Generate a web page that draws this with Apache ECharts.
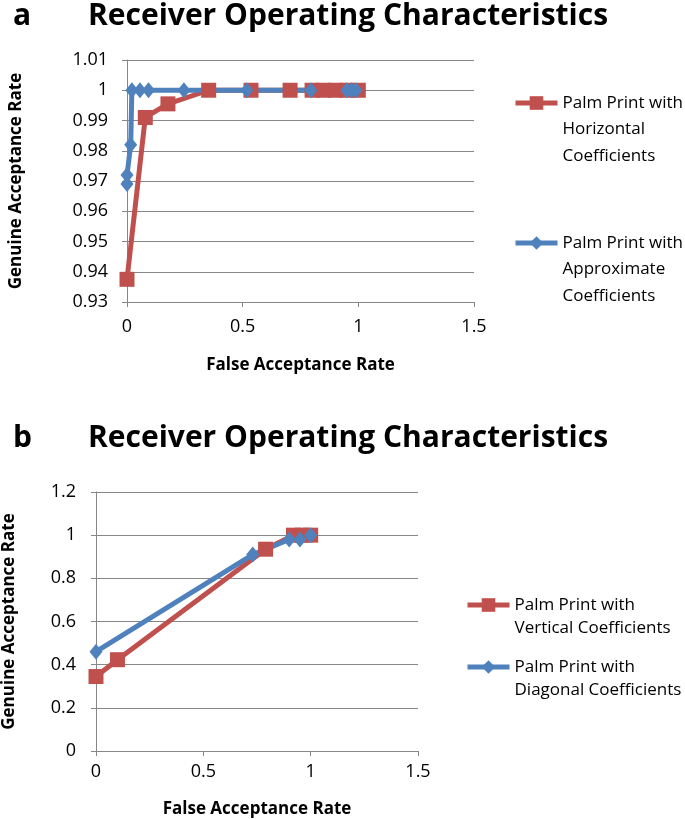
<!DOCTYPE html>
<html><head><meta charset="utf-8">
<script src="https://cdn.jsdelivr.net/npm/echarts@6/dist/echarts.min.js"></script>
<style>html,body{margin:0;padding:0;background:#fff}#c{width:685px;height:819px}</style>
</head><body><div id="c"></div>
<script>
// ---- text ----
const panelLabels = ['a', 'b'];
const titleText = 'Receiver Operating Characteristics';
const xAxisName = 'False Acceptance Rate';
const yAxisName = 'Genuine Acceptance Rate';

// ---- panel a ----
const namesA = ['Palm Print with Horizontal Coefficients', 'Palm Print with Approximate Coefficients'];
const legendLinesA = [['Palm Print with', 'Horizontal', 'Coefficients'], ['Palm Print with', 'Approximate', 'Coefficients']];
const horizontalFAR = [0, 0.079, 0.177, 0.353, 0.536, 0.705, 0.80, 0.85, 0.90, 0.95, 1.0];
const horizontalGAR = [0.9375, 0.991, 0.9955, 1, 1, 1, 1, 1, 1, 1, 1];
const approximateFAR = [0, 0, 0.016, 0.021, 0.056, 0.093, 0.246, 0.518, 0.795, 0.95, 0.97, 0.99];
const approximateGAR = [0.969, 0.972, 0.982, 1, 1, 1, 1, 1, 1, 1, 1, 1];
const xTicksA = {min: 0, max: 1.5, interval: 0.5};
const yTicksA = {min: 0.93, max: 1.01, interval: 0.01};

// ---- panel b ----
const namesB = ['Palm Print with Vertical Coefficients', 'Palm Print with Diagonal Coefficients'];
const legendLinesB = [['Palm Print with', 'Vertical Coefficients'], ['Palm Print with', 'Diagonal Coefficients']];
const verticalFAR = [0, 0.10, 0.79, 0.92, 0.96, 1.0];
const verticalGAR = [0.345, 0.423, 0.935, 1, 1, 1];
const diagonalFAR = [0, 0.73, 0.90, 0.95, 1.0];
const diagonalGAR = [0.46, 0.91, 0.98, 0.98, 1];
const xTicksB = {min: 0, max: 1.5, interval: 0.5};
const yTicksB = {min: 0, max: 1.2, interval: 0.2};

const RED = '#C0504D', BLUE = '#4F81BD', GRID = '#878787';
const FONT = 'Open Sans';
const zip = (xs, ys) => xs.map((x, i) => [x, ys[i]]);
const fmt = v => String(+v.toFixed(2));

function xAxis(gi, t, nameGap, margin) {
  return {
    type: 'value', gridIndex: gi, min: t.min, max: t.max, interval: t.interval,
    name: xAxisName, nameLocation: 'middle', nameGap: nameGap,
    nameTextStyle: {fontFamily: FONT, fontWeight: 'bold', fontSize: 17, color: '#000'},
    axisLine: {show: true, lineStyle: {color: GRID, width: 1}},
    axisTick: {show: true, inside: false, length: 5, lineStyle: {color: GRID}},
    axisLabel: {fontFamily: FONT, fontSize: 18, color: '#000', margin: margin, formatter: fmt},
    splitLine: {show: false}
  };
}
function yAxis(gi, t, nameGap, margin) {
  return {
    type: 'value', gridIndex: gi, min: t.min, max: t.max, interval: t.interval,
    name: yAxisName, nameLocation: 'middle', nameGap: nameGap, nameRotate: 90,
    nameTextStyle: {fontFamily: FONT, fontWeight: 'bold', fontSize: 17, color: '#000'},
    axisLine: {show: true, lineStyle: {color: GRID, width: 1}},
    axisTick: {show: true, inside: false, length: 5, lineStyle: {color: GRID}},
    axisLabel: {fontFamily: FONT, fontSize: 18, color: '#000', margin: margin, formatter: fmt},
    splitLine: {show: true, lineStyle: {color: GRID, width: 1}}
  };
}
function series(name, data, gi, color, symbol, size) {
  return {
    type: 'line', name: name, xAxisIndex: gi, yAxisIndex: gi, data: data,
    symbol: symbol, symbolSize: size, showSymbol: true, clip: false,
    lineStyle: {color: color, width: 5}, itemStyle: {color: color},
    animation: false
  };
}
// multi-line legend label whose first line sits level with the icon:
// (n-1) empty lines are put above so the block's middle line is the first real one.
function legendItem(name, lines, left, iconY, lh) {
  const n = lines.length;
  const half = (2 * n - 1) * lh / 2;
  const padLines = new Array(n - 1).fill('{e| }');
  const text = padLines.concat(lines.map(l => '{t|' + l + '}')).join('\n');
  return {
    data: [name], left: left, top: iconY - half, padding: 0,
    itemWidth: 42, itemHeight: 17, itemGap: 0, selectedMode: false,
    lineStyle: {width: 5},
    formatter: () => text,
    textStyle: {
      fontFamily: FONT, fontSize: 17, color: '#000', lineHeight: lh,
      rich: {
        t: {fontFamily: FONT, fontSize: 17, color: '#000', lineHeight: lh},
        e: {fontFamily: FONT, fontSize: 17, color: '#fff', lineHeight: lh}
      }
    }
  };
}

const chart = echarts.init(document.getElementById('c'), null, {renderer: 'canvas'});
chart.setOption({
  backgroundColor: '#fff',
  animation: false,
  title: [
    {text: panelLabels[0], left: 8, top: -4, textStyle: {fontFamily: FONT, fontWeight: 'bold', fontSize: 30, color: '#000'}},
    {text: titleText, left: 83, top: -4, textStyle: {fontFamily: FONT, fontWeight: 'bold', fontSize: 30, color: '#000'}},
    {text: panelLabels[1], left: 8, top: 418, textStyle: {fontFamily: FONT, fontWeight: 'bold', fontSize: 30, color: '#000'}},
    {text: titleText, left: 83, top: 418, textStyle: {fontFamily: FONT, fontWeight: 'bold', fontSize: 30, color: '#000'}}
  ],
  grid: [
    {left: 119, top: 60, width: 355, height: 242},
    {left: 95, top: 492, width: 323, height: 260}
  ],
  xAxis: [xAxis(0, xTicksA, 55, 16), xAxis(1, xTicksB, 50, 12)],
  yAxis: [yAxis(0, yTicksA, 102, 19), yAxis(1, yTicksB, 78, 20)],
  legend: [
    legendItem(namesA[0], legendLinesA[0], 513, 103, 26.5),
    legendItem(namesA[1], legendLinesA[1], 513, 243, 26.5),
    legendItem(namesB[0], legendLinesB[0], 465, 605, 23),
    legendItem(namesB[1], legendLinesB[1], 465, 667, 23)
  ],
  series: [
    series(namesA[0], zip(horizontalFAR, horizontalGAR), 0, RED, 'rect', 15),
    series(namesA[1], zip(approximateFAR, approximateGAR), 0, BLUE, 'diamond', [13, 16]),
    series(namesB[0], zip(verticalFAR, verticalGAR), 1, RED, 'rect', 15),
    series(namesB[1], zip(diagonalFAR, diagonalGAR), 1, BLUE, 'diamond', [13, 16])
  ]
});
</script></body></html>
